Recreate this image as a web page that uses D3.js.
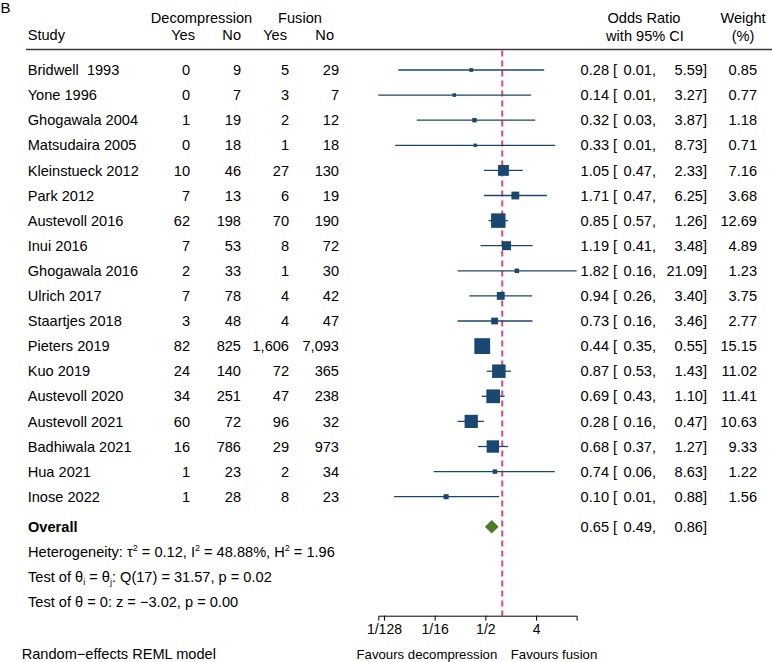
<!DOCTYPE html>
<html>
<head>
<meta charset="utf-8">
<script src="https://cdn.jsdelivr.net/npm/d3@7"></script>
<style>
  body { margin: 0; background: #fff; }
  svg { display: block; font-family: "Liberation Sans", Arial, Helvetica, sans-serif; }
  text { fill: #000; }
</style>
</head>
<body>
<svg id="chart" width="772" height="662"></svg>
<script>
// ---- data ----
const studies = ["Bridwell  1993","Yone 1996","Ghogawala 2004","Matsudaira 2005","Kleinstueck 2012","Park 2012","Austevoll 2016","Inui 2016","Ghogawala 2016","Ulrich 2017","Staartjes 2018","Pieters 2019","Kuo 2019","Austevoll 2020","Austevoll 2021","Badhiwala 2021","Hua 2021","Inose 2022"];
const decYes = [0,0,1,0,10,7,62,7,2,7,3,82,24,34,60,16,1,1];
const decNo  = [9,7,19,18,46,13,198,53,33,78,48,825,140,251,72,786,23,28];
const fusYes = [5,3,2,1,27,6,70,8,1,4,4,1606,72,47,96,29,2,8];
const fusNo  = [29,7,12,18,130,19,190,72,30,42,47,7093,365,238,32,973,34,23];
const oddsRatio = [0.28,0.14,0.32,0.33,1.05,1.71,0.85,1.19,1.82,0.94,0.73,0.44,0.87,0.69,0.28,0.68,0.74,0.10];
const ciLower = [0.0141,0.0062,0.03,0.0124,0.47,0.47,0.57,0.41,0.16,0.26,0.16,0.35,0.53,0.43,0.16,0.37,0.06,0.0118];
const ciUpper = [5.59,3.27,3.87,8.73,2.33,6.25,1.26,3.48,21.09,3.40,3.46,0.55,1.43,1.10,0.47,1.27,8.63,0.88];
const weights = [0.85,0.77,1.18,0.71,7.16,3.68,12.69,4.89,1.23,3.75,2.77,15.15,11.02,11.41,10.63,9.33,1.22,1.56];
const overallOR = [0.65, 0.49, 0.86]; // estimate, lower, upper
const tickValues = [1/128, 1/16, 1/2, 4];
const tickLabels = ["1/128","1/16","1/2","4"];

// ---- setup ----
const svg = d3.select("#chart");
const FS = 14.6;
const navy = "#1a476f";
const fmt2 = d3.format(".2f");
const fmtN = d3.format(",");

const minCI = d3.min(ciLower), maxCI = d3.max(ciUpper);
const x = d3.scaleLog().domain([minCI, maxCI]).range([378.3, 576.6]);
const y = d3.scaleLinear().domain([0, 1]).range([70, 95.1]); // row index -> y
const size = d3.scaleSqrt().domain([0, d3.max(weights)]).range([0, 15.8]);

function txt(xp, yp, s, anchor, opts = {}) {
  return svg.append("text")
    .attr("x", xp).attr("y", yp).attr("dy", "0.35em")
    .attr("text-anchor", anchor || "start")
    .attr("font-size", opts.fs || FS)
    .attr("font-weight", opts.bold ? "bold" : null)
    .attr("xml:space", "preserve")
    .style("white-space", "pre")
    .text(s);
}

// panel letter
svg.append("text").attr("x", 0.5).attr("y", 13).attr("font-size", 15).text("B");

// headers
txt(201.5, 17.5, "Decompression", "middle");
txt(300, 17.5, "Fusion", "middle");
txt(27.7, 35, "Study", "start");
txt(195, 35, "Yes", "end");
txt(241, 35, "No", "end");
txt(287, 35, "Yes", "end");
txt(334, 35, "No", "end");
txt(644, 17.5, "Odds Ratio", "middle");
txt(645, 36, "with 95% CI", "middle");
txt(743, 17.5, "Weight", "middle");
txt(743, 36, "(%)", "middle");

svg.append("line").attr("x1", 26).attr("x2", 772).attr("y1", 49.5).attr("y2", 49.5)
  .attr("stroke", "#3a3a3a").attr("stroke-width", 1.5);

// reference line at OR = 1
svg.append("line").attr("x1", x(1)).attr("x2", x(1)).attr("y1", 50.5).attr("y2", 615.7)
  .attr("stroke", "#e0457b").attr("stroke-width", 2).attr("stroke-dasharray", "6,4");

// study rows
studies.forEach((s, i) => {
  const yy = y(i);
  txt(27.7, yy, s, "start");
  txt(190, yy, fmtN(decYes[i]), "end");
  txt(241, yy, fmtN(decNo[i]), "end");
  txt(289, yy, fmtN(fusYes[i]), "end");
  txt(339, yy, fmtN(fusNo[i]), "end");
  txt(609, yy, fmt2(oddsRatio[i]), "end");
  txt(613, yy, "[", "start");
  txt(656, yy, fmt2(ciLower[i]) + ",", "end");
  txt(707, yy, fmt2(ciUpper[i]) + "]", "end");
  txt(757, yy, fmt2(weights[i]), "end");
});

// CI lines
svg.append("g").selectAll("line").data(studies).join("line")
  .attr("x1", (d, i) => x(ciLower[i])).attr("x2", (d, i) => x(ciUpper[i]))
  .attr("y1", (d, i) => y(i)).attr("y2", (d, i) => y(i))
  .attr("stroke", navy).attr("stroke-width", 1.3);

// markers
svg.append("g").selectAll("rect").data(studies).join("rect")
  .attr("x", (d, i) => x(oddsRatio[i]) - size(weights[i]) / 2)
  .attr("y", (d, i) => y(i) - size(weights[i]) / 2)
  .attr("width", (d, i) => size(weights[i]))
  .attr("height", (d, i) => size(weights[i]))
  .attr("fill", navy);

// overall
const yO = y(18.2);
txt(28, yO, "Overall", "start", { bold: true });
txt(609, yO, fmt2(overallOR[0]), "end");
txt(613, yO, "[", "start");
txt(656, yO, fmt2(overallOR[1]) + ",", "end");
txt(707, yO, fmt2(overallOR[2]) + "]", "end");
const dh = 6.7;
svg.append("path")
  .attr("d", `M${x(overallOR[1])},${yO} L${x(overallOR[0])},${yO - dh} L${x(overallOR[2])},${yO} L${x(overallOR[0])},${yO + dh} Z`)
  .attr("fill", "#4e7a27");

// heterogeneity lines
function richLine(yy, parts) {
  const t = svg.append("text").attr("x", 28).attr("y", yy).attr("dy", "0.35em").attr("font-size", FS);
  parts.forEach(p => {
    if (typeof p === "string") t.append("tspan").text(p);
    else t.append("tspan").attr("font-size", 9).attr("baseline-shift", p.sup ? "6" : "-3").text(p.t);
  });
}
richLine(y(19.2), ["Heterogeneity: τ", {t:"2", sup:true}, " = 0.12, I", {t:"2", sup:true}, " = 48.88%, H", {t:"2", sup:true}, " = 1.96"]);
richLine(y(20.2), ["Test of θ", {t:"i", sup:false}, " = θ", {t:"j", sup:false}, ": Q(17) = 31.57, p = 0.02"]);
richLine(y(21.2), ["Test of θ = 0: z = −3.02, p = 0.00"]);

// axis
const axis = d3.axisBottom(x).tickValues(tickValues)
  .tickFormat((d, i) => tickLabels[i]).tickSizeOuter(0).tickSize(5);
const ag = svg.append("g").attr("transform", "translate(0,615.7)").call(axis);
ag.select(".domain").attr("stroke", "#000").attr("stroke-width", 1);
ag.selectAll(".tick line").attr("stroke", "#000");
ag.selectAll(".tick text").attr("font-size", 14).attr("font-family", "Liberation Sans, Arial, sans-serif")
  .attr("fill", "#000").attr("y", 8).attr("dy", "0.71em");

// footer
txt(21.7, 654, "Random−effects REML model", "start");
txt(x(1) - 5, 654, "Favours decompression", "end", { fs: 13.2 });
txt(x(1) + 8.5, 654, "Favours fusion", "start", { fs: 13.2 });
</script>
</body>
</html>
